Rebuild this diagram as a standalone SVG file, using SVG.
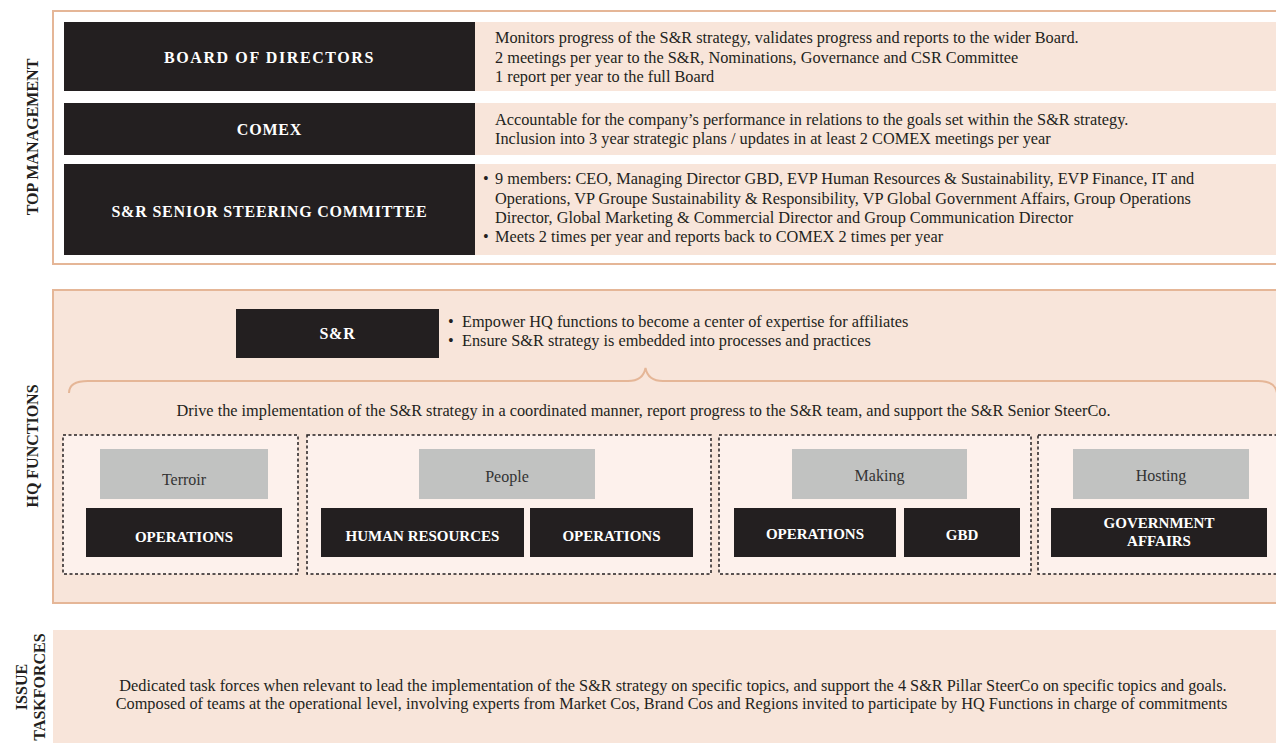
<svg xmlns="http://www.w3.org/2000/svg" width="1276" height="743" viewBox="0 0 1276 743">
<style>
.panel{fill:#ffffff;stroke:#e5b697;stroke-width:2}
.hqpanel{fill:#f8e5da;stroke:#e5b697;stroke-width:2}
.peach{fill:#f8e5da}
.dark{fill:#231f20}
.gray{fill:#c1c2c1}
.grp{fill:#fdf1ec;stroke:#231f20;stroke-width:1.5;stroke-dasharray:3 2.5}
.lbl{font-family:"Liberation Serif","Times New Roman",serif;font-weight:bold;fill:#ffffff;text-anchor:middle}
.big{font-size:16px;letter-spacing:0.8px}
.sm{font-size:15px}
.side{font-family:"Liberation Serif","Times New Roman",serif;font-weight:bold;font-size:16px;fill:#231f20;text-anchor:middle}
.txt{font-family:"Liberation Serif","Times New Roman",serif;font-size:16.3px;fill:#231f20}
.gtxt{font-family:"Liberation Serif","Times New Roman",serif;font-size:16px;fill:#333333;text-anchor:middle}
.mid{text-anchor:middle}
.brace{fill:none;stroke:#e5b697;stroke-width:2}
</style>

<!-- Section labels -->
<g id="section-labels">
  <text class="side" transform="translate(38,137) rotate(-90)">TOP MANAGEMENT</text>
  <text class="side" transform="translate(38,446) rotate(-90)">HQ FUNCTIONS</text>
  <text class="side" transform="translate(26.5,687) rotate(-90)">ISSUE</text>
  <text class="side" transform="translate(44.5,687) rotate(-90)">TASKFORCES</text>
</g>

<!-- Top management panel -->
<g id="top-management">
  <rect class="panel" x="53" y="11" width="1230" height="253"/>
</g>

<g id="board">
  <rect class="dark" x="64" y="22" width="411" height="69"/>
  <text class="lbl big" x="269.5" y="63" style="letter-spacing:1.6px">BOARD OF DIRECTORS</text>
  <rect class="peach" x="475" y="22" width="801" height="69"/>
  <text class="txt" x="495" y="43">Monitors progress of the S&amp;R strategy, validates progress and reports to the wider Board.</text>
  <text class="txt" x="495" y="62.5">2 meetings per year to the S&amp;R, Nominations, Governance and CSR Committee</text>
  <text class="txt" x="495" y="82">1 report per year to the full Board</text>
</g>

<g id="comex">
  <rect class="dark" x="64" y="103" width="411" height="52"/>
  <text class="lbl big" x="269.5" y="135">COMEX</text>
  <rect class="peach" x="475" y="103" width="801" height="52"/>
  <text class="txt" x="495" y="125">Accountable for the company’s performance in relations to the goals set within the S&amp;R strategy.</text>
  <text class="txt" x="495" y="144">Inclusion into 3 year strategic plans / updates in at least 2 COMEX meetings per year</text>
</g>

<g id="senior-steerco">
  <rect class="dark" x="64" y="164" width="411" height="91"/>
  <text class="lbl big" x="269.5" y="216.5">S&amp;R SENIOR STEERING COMMITTEE</text>
  <rect class="peach" x="475" y="164" width="801" height="91"/>
  <text class="txt" x="483" y="184">•</text>
  <text class="txt" x="495" y="184">9 members: CEO, Managing Director GBD, EVP Human Resources &amp; Sustainability, EVP Finance, IT and</text>
  <text class="txt" x="495" y="203.5">Operations, VP Groupe Sustainability &amp; Responsibility, VP Global Government Affairs, Group Operations</text>
  <text class="txt" x="495" y="223">Director, Global Marketing &amp; Commercial Director and Group Communication Director</text>
  <text class="txt" x="483" y="242">•</text>
  <text class="txt" x="495" y="242">Meets 2 times per year and reports back to COMEX 2 times per year</text>
</g>

<!-- HQ functions panel -->
<g id="hq-functions">
  <rect class="hqpanel" x="53" y="290" width="1230" height="313"/>
</g>

<g id="sr">
  <rect class="dark" x="236" y="309" width="203" height="49"/>
  <text class="lbl big" x="337.5" y="339">S&amp;R</text>
  <text class="txt" x="448" y="327">•</text>
  <text class="txt" x="462" y="327">Empower HQ functions to become a center of expertise for affiliates</text>
  <text class="txt" x="448" y="346">•</text>
  <text class="txt" x="462" y="346">Ensure S&amp;R strategy is embedded into processes and practices</text>
</g>

<g id="connectors">
  <path class="brace" d="M69,393 C69,385 75,381 88,381 L628,381 C639,381 644,376 645.5,368 C647,376 652,381 663,381 L1258,381 C1270,381 1276,386 1277,393"/>
</g>

<g id="drive-text">
  <text class="txt mid" x="643.5" y="416">Drive the implementation of the S&amp;R strategy in a coordinated manner, report progress to the S&amp;R team, and support the S&amp;R Senior SteerCo.</text>
</g>

<g id="terroir">
  <rect class="grp" x="63" y="435" width="235" height="139"/>
  <rect class="gray" x="100" y="449" width="168" height="50"/>
  <text class="gtxt" x="184" y="485">Terroir</text>
  <rect class="dark" x="86" y="508" width="196" height="49"/>
  <text class="lbl sm" x="184" y="542">OPERATIONS</text>
</g>

<g id="people">
  <rect class="grp" x="307" y="435" width="404" height="139"/>
  <rect class="gray" x="419" y="449" width="176" height="50"/>
  <text class="gtxt" x="507" y="482">People</text>
  <rect class="dark" x="321" y="508" width="203" height="49"/>
  <text class="lbl sm" x="422.5" y="541">HUMAN RESOURCES</text>
  <rect class="dark" x="530" y="508" width="163" height="49"/>
  <text class="lbl sm" x="611.5" y="541">OPERATIONS</text>
</g>

<g id="making">
  <rect class="grp" x="719" y="435" width="312" height="139"/>
  <rect class="gray" x="792" y="449" width="175" height="50"/>
  <text class="gtxt" x="879.5" y="481">Making</text>
  <rect class="dark" x="734" y="508" width="162" height="49"/>
  <text class="lbl sm" x="815" y="539">OPERATIONS</text>
  <rect class="dark" x="904" y="508" width="116" height="49"/>
  <text class="lbl sm" x="962" y="540">GBD</text>
</g>

<g id="hosting">
  <rect class="grp" x="1038" y="435" width="245" height="139"/>
  <rect class="gray" x="1073" y="449" width="176" height="50"/>
  <text class="gtxt" x="1161" y="481">Hosting</text>
  <rect class="dark" x="1051" y="508" width="216" height="49"/>
  <text class="lbl sm" x="1159" y="528">GOVERNMENT</text>
  <text class="lbl sm" x="1159" y="546">AFFAIRS</text>
</g>

<!-- Issue taskforces -->
<g id="issue-taskforces">
  <rect class="peach" x="53" y="630" width="1223" height="113"/>
  <text class="txt mid" x="673" y="691">Dedicated task forces when relevant to lead the implementation of the S&amp;R strategy on specific topics, and support the 4 S&amp;R Pillar SteerCo on specific topics and goals.</text>
  <text class="txt mid" x="671.5" y="709">Composed of teams at the operational level, involving experts from Market Cos, Brand Cos and Regions invited to participate by HQ Functions in charge of commitments</text>
</g>
</svg>
